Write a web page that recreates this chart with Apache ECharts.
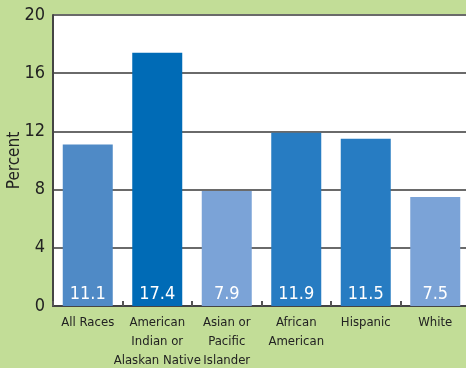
<!DOCTYPE html>
<html>
<head>
<meta charset="utf-8">
<script src="https://cdn.jsdelivr.net/npm/echarts@6/dist/echarts.min.js"></script>
<style>
  html, body { margin: 0; padding: 0; background: #c2dd97; }
  #chart { width: 466px; height: 368px; }
</style>
</head>
<body>
<div id="chart"></div>
<script>
// Race/ethnicity groups and their percentages
const categories = ['All Races', 'American\nIndian or\nAlaskan Native', 'Asian or\nPacific\nIslander', 'African\nAmerican', 'Hispanic', 'White'];
const values = [11.1, 17.4, 7.9, 11.9, 11.5, 7.5];
const barColors = ['#4f8ac6', '#006bb6', '#7ba3d7', '#277cc2', '#277cc2', '#7ba3d7'];
const yTicks = [0, 4, 8, 12, 16, 20];

const FONT = '"DejaVu Sans Condensed", "Liberation Sans Narrow", sans-serif';

const chart = echarts.init(document.getElementById('chart'), null, { renderer: 'canvas' });
chart.setOption({
  backgroundColor: '#c2dd97',
  animation: false,
  grid: {
    left: 53, top: 15, width: 417, height: 291,
    containLabel: false, outerBoundsMode: 'none',
    backgroundColor: '#ffffff', show: true, borderWidth: 0
  },
  xAxis: {
    type: 'category',
    data: categories,
    axisLine: { lineStyle: { color: '#444', width: 2 } },
    axisTick: { show: true, length: 5, inside: true, lineStyle: { color: '#555', width: 2 } },
    axisLabel: { color: '#222', fontFamily: FONT, fontSize: 13, lineHeight: 19, margin: 7, interval: 0 }
  },
  yAxis: {
    type: 'value',
    min: yTicks[0],
    max: yTicks[yTicks.length - 1],
    interval: 4,
    name: 'Percent',
    nameLocation: 'middle',
    nameGap: 30,
    nameMoveOverlap: false,
    nameTextStyle: { color: '#222', fontFamily: FONT, fontSize: 17 },
    axisLine: { show: true, lineStyle: { color: '#444', width: 2 } },
    axisTick: { show: false },
    axisLabel: { color: '#222', fontFamily: FONT, fontSize: 18, margin: 8 },
    splitLine: { lineStyle: { color: '#6a6a6a', width: 2 } }
  },
  series: [{
    type: 'bar',
    barWidth: 50,
    z: 3,
    data: values.map((v, i) => ({ value: v, itemStyle: { color: barColors[i] } })),
    label: {
      show: true,
      position: 'insideBottom',
      distance: 3,
      color: '#ffffff',
      fontFamily: FONT,
      fontSize: 18,
      formatter: p => p.value.toFixed(1)
    }
  }]
});
</script>
</body>
</html>
